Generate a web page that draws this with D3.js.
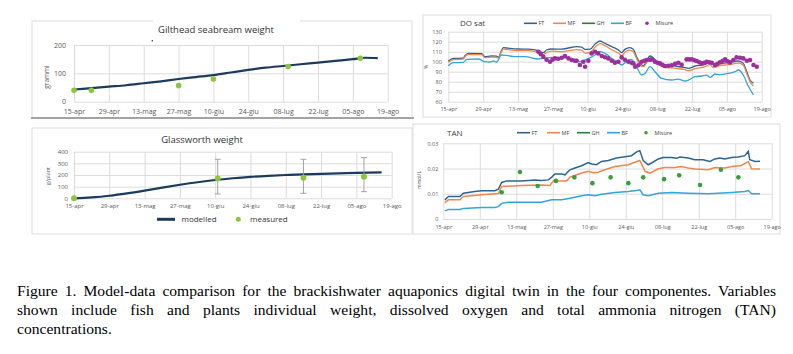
<!DOCTYPE html>
<html>
<head>
<meta charset="utf-8">
<script src="https://cdn.jsdelivr.net/npm/d3@7"></script>
<style>
  body { margin: 0; background: #fff; }
  #fig { position: relative; width: 793px; height: 354px; overflow: hidden; }
  #fig svg { position: absolute; left: 0; top: 0; }
  .caption { position: absolute; left: 17px; width: 759px; font-family: "Liberation Serif", "Times New Roman", serif;
             font-size: 15.6px; line-height: 19px; color: #000; white-space: nowrap; }
  .just { text-align: justify; text-align-last: justify; }
</style>
</head>
<body>
<div id="fig"></div>
<script>
// x axis: days since 15 april
const tickDays = [0, 14, 28, 42, 56, 70, 84, 98, 112, 126];
const tickLabels = ["15-apr", "29-apr", "13-mag", "27-mag", "10-giu", "24-giu", "08-lug", "22-lug", "05-ago", "19-ago"];

// gilthead seabream weight (grammi)
const seabreamModel = [[0, 43], [7, 48], [14, 53], [21, 58], [28, 65], [35, 72], [42, 80], [49, 87], [56, 94], [63, 103],
  [70, 112], [77, 120], [84, 126], [91, 132], [98, 138], [105, 144], [112, 150], [117, 155], [122, 154]];
const seabreamMeasured = [[0, 40], [7, 40], [42, 57], [56, 80], [86, 124], [115, 153]];

// glassworth weight (g/plant)
const glassModel = [[0, 0], [7, 8], [14, 22], [21, 42], [28, 66], [35, 92], [42, 116], [49, 138], [56, 157], [63, 172],
  [70, 184], [77, 193], [84, 200], [91, 206], [98, 210], [105, 214], [112, 218], [122, 222]];
const glassMeasured = [[0, 0, 0, 0], [57, 170, 37, 335], [91, 177, 43, 335], [115, 185, 57, 349]]; // day, mean, low, high

// DO sat (%)
const doFT = [[0, 100.7], [2, 103.3], [6, 103.5], [6.7, 106], [8, 108.3], [13.4, 108], [14.7, 105], [17.4, 105.7], [19.4, 105.5],
  [20.1, 104.3], [21.2, 110], [22.1, 114], [24.1, 113.5], [28.2, 112.7], [32.2, 112.5], [36.2, 111], [38.2, 109], [39.5, 111.7],
  [41.6, 112.7], [45.6, 112.5], [48.3, 113.7], [51.6, 115], [53.6, 114.5], [55, 112.3], [57, 112.5], [59, 117.7], [61, 120.7],
  [63, 118.3], [65.7, 115], [68.4, 111.7], [69.7, 109], [71, 112.3], [73, 114], [74.4, 112.3], [75.7, 105], [77.1, 98.3],
  [78.4, 96], [81.1, 105.7], [84.5, 99], [87.1, 96.3], [91.2, 95.7], [95.2, 94], [96.5, 93.3], [99.2, 95.7], [103.2, 97.3],
  [105.2, 100], [106.6, 97.3], [109.2, 98.3], [112.6, 99], [116.6, 100.7], [118.6, 98.3], [120, 90], [121.3, 81.7], [122.7, 78.5]];
const doMF = [[0, 99.5], [2, 102], [6, 102.5], [6.7, 105], [8, 107], [13.4, 107], [14.7, 104], [17.4, 104.5], [19.4, 104.3],
  [20.1, 103.5], [21.2, 109], [22.1, 112.5], [24.1, 112], [28.2, 111], [32.2, 111], [36.2, 109], [38.2, 107], [39.5, 109],
  [41.6, 110.5], [45.6, 110], [48.3, 111], [51.6, 112], [53.6, 111.5], [55, 108.5], [57, 109], [59, 114.5], [61, 118],
  [63, 116], [65.7, 112], [68.4, 108.5], [69.7, 106], [71, 109.5], [73, 111.5], [74.4, 110], [75.7, 103], [77.1, 97],
  [78.4, 95], [81.1, 103.5], [84.5, 97], [87.1, 94], [91.2, 93.5], [95.2, 92], [96.5, 91], [99.2, 93], [103.2, 95],
  [105.2, 97], [106.6, 94], [109.2, 96], [112.6, 97], [116.6, 98.5], [118.6, 96.5], [120, 88], [121.3, 80], [122.7, 75.7]];
const doBF = [[0, 96], [2, 99], [6, 99.3], [7.4, 102.3], [12.1, 102.7], [14.7, 100], [16.8, 99.7], [18.1, 100.7], [19.4, 99.7],
  [21.4, 106.7], [23.5, 106.3], [26.8, 105], [30.8, 105], [36.2, 102.7], [41.6, 104.3], [45.6, 104], [49.6, 103.3], [52.9, 100],
  [55.6, 102.3], [59, 106.7], [61, 110], [63.7, 107.3], [65.7, 103.3], [68.4, 99], [69.7, 96.7], [72.4, 101.7], [73.7, 102],
  [75.7, 95], [77.7, 86.7], [79.1, 88.3], [81.1, 95], [83.1, 90], [85.8, 83.3], [89.8, 81.7], [92.5, 82.5], [95.2, 80.7],
  [96.5, 81.5], [99.2, 85], [101.9, 85.7], [103.9, 86.5], [105.2, 84.3], [107.2, 87.7], [109.2, 87], [112.6, 88.3],
  [115.3, 90], [116.6, 91.7], [118.6, 86.7], [120.6, 75.7], [122.7, 66.7]];
const doMisure = [[36.2, 110], [37.2, 107.5], [38.2, 105], [39.5, 102], [40.9, 100], [41.9, 102], [42.9, 103.3], [44.2, 103],
  [45.6, 104], [46.9, 105.7], [48.3, 103.3], [49.6, 101.7], [50.9, 101], [51.6, 101], [52.9, 96.7], [54.3, 100], [55, 95],
  [56.3, 101], [57.6, 108.3], [59, 110], [60.3, 108.3], [61.7, 105.7], [63, 104.5], [64.3, 103.3], [65.7, 101], [67, 99],
  [68.4, 100], [69.7, 104.3], [71, 102], [72.4, 100], [73.7, 99], [74.4, 98.3], [75.1, 95], [76.4, 96.5], [77.7, 100],
  [78.8, 101], [79.8, 101.7], [81.1, 102], [81.8, 102.3], [83.1, 100], [84.1, 99], [85.1, 98.3], [86.1, 97], [87.1, 95.7],
  [88.5, 96], [89.8, 96.5], [91.2, 98], [92.5, 99], [93.8, 97], [95.8, 102.3], [96.8, 102.3], [97.9, 102.3], [98.9, 101.5],
  [99.9, 100.7], [100.9, 99.5], [101.9, 98.3], [102.9, 99], [103.9, 100], [104.9, 99.5], [105.9, 99], [107.2, 96.7],
  [108.2, 98], [109.2, 99.3], [110.3, 101], [111.3, 102.3], [112.3, 100.5], [113.3, 99.3], [114.6, 101.7], [115.9, 104.3],
  [117.3, 104], [118.6, 103.3], [120, 101], [121.3, 101.7], [122.7, 96.7], [124, 95]];

// TAN (mmol/L)
const tanFT = [[0.6, 0.0076], [2, 0.0089], [6.4, 0.0089], [7.7, 0.0102], [12.1, 0.0109], [14.7, 0.0112], [19.8, 0.0112],
  [21.1, 0.0118], [22.4, 0.0145], [24.3, 0.0151], [30, 0.0151], [35.2, 0.0155], [37.7, 0.0153], [40.3, 0.0155], [41.6, 0.0166],
  [42.8, 0.0178], [45.4, 0.0178], [46.7, 0.0175], [48.6, 0.0195], [50.5, 0.0202], [53.1, 0.0211], [55.6, 0.0224], [56.9, 0.0218],
  [58.8, 0.0215], [60.7, 0.0228], [63.3, 0.0232], [66.5, 0.0242], [69, 0.0246], [72.2, 0.0251], [74.2, 0.0266], [75.4, 0.0271],
  [76.7, 0.0232], [78.6, 0.0215], [79.9, 0.0222], [82.5, 0.0238], [84.4, 0.0244], [87.6, 0.0244], [89.5, 0.0241], [90.8, 0.0246],
  [94, 0.0242], [96.5, 0.0235], [99.7, 0.0235], [102.3, 0.0228], [104.2, 0.0238], [106.1, 0.0242], [108, 0.0238],
  [110.6, 0.0244], [113.1, 0.0246], [115.7, 0.0251], [117, 0.0268], [117.6, 0.0235], [119.6, 0.0228], [121.5, 0.0229]];
const tanMF = [[0.6, 0.0065], [2, 0.0076], [6.4, 0.0076], [7.7, 0.0089], [14.7, 0.0096], [19.8, 0.01], [21.1, 0.0101],
  [22.4, 0.0129], [30, 0.0133], [37.7, 0.0135], [40.9, 0.0133], [42.2, 0.0151], [45.4, 0.0151], [47.3, 0.0151],
  [48.6, 0.0166], [53.1, 0.0182], [55.6, 0.0189], [57.5, 0.0183], [59.5, 0.0185], [61.4, 0.0193], [65.9, 0.0208],
  [71, 0.0215], [74.2, 0.0228], [75.4, 0.0232], [77.4, 0.0189], [79.3, 0.0182], [82.5, 0.0199], [85, 0.0204],
  [88.9, 0.0204], [91.4, 0.0208], [94, 0.0202], [96.5, 0.0198], [101.6, 0.0195], [104.2, 0.0204], [108, 0.0202],
  [110.6, 0.0208], [114.4, 0.0212], [117, 0.0228], [118.3, 0.0199], [121.5, 0.0198]];
const tanBF = [[0.6, 0.0032], [2, 0.0038], [6.4, 0.0038], [7.7, 0.0042], [14.7, 0.0046], [19.8, 0.0046], [21.1, 0.0049],
  [22.4, 0.0062], [24.9, 0.0066], [37.7, 0.0066], [41.6, 0.0076], [45.4, 0.0076], [48.6, 0.0082], [53.1, 0.0092],
  [55.6, 0.0096], [58.2, 0.0092], [60.7, 0.0098], [65.9, 0.0105], [71, 0.0109], [74.2, 0.0113], [75.4, 0.0116],
  [76.7, 0.0096], [78.6, 0.0092], [82.5, 0.0102], [87.6, 0.0105], [94, 0.0102], [101.6, 0.01], [105.5, 0.0102],
  [110.6, 0.0105], [115.7, 0.0109], [117, 0.0113], [118.3, 0.01], [121.5, 0.01]];
const tanMisure = [[22.4, 0.0106], [29.4, 0.0186], [36.2, 0.0131], [43.2, 0.0151], [50.3, 0.0165], [57.2, 0.0142],
  [64.2, 0.0165], [71, 0.0142], [76.7, 0.0165], [84.7, 0.0158], [90.5, 0.0173], [98.5, 0.0135], [106.5, 0.0195],
  [113.2, 0.0165]];

const seriesNames = ["FT", "MF", "GH", "BF", "Misure"];
const seriesColors = { FT: "#2e6590", MF: "#f4854a", GH: "#2e7d32", BF: "#2fa6dc" };

const navy = "#1b3a5e";
const lime = "#8cc63f";
const gridColor = "#dcdcdc";
const labelColor = "#595959";

const svg = d3.select("#fig").append("svg").attr("width", 793).attr("height", 270);

function drawPanel(o) {
  const g = svg.append("g");
  const x = d3.scaleLinear().domain([0, 126]).range([o.x0, o.x1]);
  const y = d3.scaleLinear().domain(o.yDomain).range([o.yb, o.yt]);

  g.append("rect")
    .attr("x", o.fx).attr("y", o.fy).attr("width", o.fw).attr("height", o.fh)
    .attr("fill", "#fff").attr("stroke", "#dedede").attr("stroke-width", 1);

  g.append("g")
    .attr("transform", `translate(${o.x0},0)`)
    .call(d3.axisLeft(y).tickValues(o.yTicks).tickSize(-(o.x1 - o.x0)).tickPadding(o.yPad).tickFormat(o.yFmt))
    .call((a) => {
      a.select(".domain").remove();
      a.selectAll("line").attr("stroke", gridColor);
      a.selectAll("text").attr("fill", labelColor).attr("font-size", o.font).attr("font-family", "Open Sans, sans-serif");
    });

  g.append("g")
    .attr("transform", `translate(0,${o.yb})`)
    .call(d3.axisBottom(x).tickValues(tickDays).tickSize(-(o.yb - o.yt)).tickPadding(o.xPad)
      .tickFormat((d, i) => tickLabels[i]))
    .call((a) => {
      a.select(".domain").remove();
      a.selectAll("line").attr("stroke", gridColor);
      a.selectAll("text").attr("fill", labelColor).attr("font-size", o.font).attr("font-family", "Open Sans, sans-serif");
    });

  g.append("text")
    .attr("transform", `translate(${o.ylx},${o.yly}) rotate(-90)`)
    .attr("text-anchor", "middle")
    .attr("font-size", o.font - 0.5)
    .attr("fill", labelColor)
    .text(o.yLabel);

  return { g, x, y };
}

// ---- Gilthead seabream ----
const pA = drawPanel({ fx: 32, fy: 21, fw: 380, fh: 97, x0: 74, x1: 387.7, yb: 101.7, yt: 45,
  yDomain: [0, 200], yTicks: [0, 100, 200], yFmt: d3.format("d"), font: 7, xPad: 7.5, yPad: 8,
  yLabel: "grammi", ylx: 49, yly: 77 });
svg.append("rect").attr("x", 153).attr("y", 17).attr("width", 147).attr("height", 26).attr("fill", "#fff");
svg.append("text").attr("x", 216).attr("y", 33).attr("text-anchor", "middle")
  .attr("font-size", 9.5).attr("fill", "#333").text("Gilthead seabream weight");
svg.append("circle").attr("cx", 152.3).attr("cy", 40.7).attr("r", 0.8).attr("fill", navy);
svg.append("line").attr("x1", 31).attr("x2", 414).attr("y1", 118).attr("y2", 118)
  .attr("stroke", "#8a8a8a").attr("stroke-width", 1.5);

pA.g.append("path")
  .datum(seabreamModel)
  .attr("fill", "none").attr("stroke", navy).attr("stroke-width", 2.2)
  .attr("d", d3.line().x((d) => pA.x(d[0])).y((d) => pA.y(d[1])).curve(d3.curveMonotoneX));
pA.g.selectAll(".pt").data(seabreamMeasured).join("circle")
  .attr("cx", (d) => pA.x(d[0])).attr("cy", (d) => pA.y(d[1])).attr("r", 2.8).attr("fill", lime);

// ---- Glassworth ----
const pB = drawPanel({ fx: 32, fy: 128, fw: 380, fh: 106, x0: 74, x1: 391.7, yb: 198.3, yt: 151.7,
  yDomain: [0, 400], yTicks: [0, 100, 200, 300, 400], yFmt: d3.format("d"), font: 6, xPad: 5.6, yPad: 6,
  yLabel: "g/plant", ylx: 50, yly: 176 });
svg.append("text").attr("x", 202).attr("y", 142.5).attr("text-anchor", "middle")
  .attr("font-size", 9.5).attr("fill", "#333").text("Glassworth weight");

pB.g.append("path")
  .datum(glassModel)
  .attr("fill", "none").attr("stroke", navy).attr("stroke-width", 2.2)
  .attr("d", d3.line().x((d) => pB.x(d[0])).y((d) => pB.y(d[1])).curve(d3.curveMonotoneX));
const bars = pB.g.selectAll(".err").data(glassMeasured.filter((d) => d[3] > d[2])).join("g");
bars.append("line").attr("x1", (d) => pB.x(d[0])).attr("x2", (d) => pB.x(d[0]))
  .attr("y1", (d) => pB.y(d[2])).attr("y2", (d) => pB.y(d[3])).attr("stroke", "#9a9a9a").attr("stroke-width", 0.9);
[2, 3].forEach((k) => {
  bars.append("line").attr("x1", (d) => pB.x(d[0]) - 3).attr("x2", (d) => pB.x(d[0]) + 3)
    .attr("y1", (d) => pB.y(d[k])).attr("y2", (d) => pB.y(d[k])).attr("stroke", "#9a9a9a").attr("stroke-width", 0.9);
});
pB.g.selectAll(".pt").data(glassMeasured).join("circle")
  .attr("cx", (d) => pB.x(d[0])).attr("cy", (d) => pB.y(d[1])).attr("r", 3).attr("fill", lime);

const legB = svg.append("g").attr("font-size", 8).attr("fill", "#333");
legB.append("line").attr("x1", 157).attr("x2", 175).attr("y1", 219.3).attr("y2", 219.3)
  .attr("stroke", navy).attr("stroke-width", 3);
legB.append("text").attr("x", 181.5).attr("y", 222).text("modelled");
legB.append("circle").attr("cx", 238.3).attr("cy", 219.3).attr("r", 2.5).attr("fill", lime);
legB.append("text").attr("x", 250).attr("y", 222).text("measured");

// ---- legend for the two right panels ----
function drawLegend(x0, yMid, step, dotX, dotColor) {
  const lg = svg.append("g").attr("font-size", 5.5).attr("fill", "#444");
  seriesNames.slice(0, 4).forEach((name, i) => {
    const lx = x0 + i * step;
    lg.append("line").attr("x1", lx).attr("x2", lx + 13).attr("y1", yMid).attr("y2", yMid)
      .attr("stroke", seriesColors[name]).attr("stroke-width", 1.6);
    lg.append("text").attr("x", lx + 14.5).attr("y", yMid + 2).text(name);
  });
  lg.append("circle").attr("cx", dotX).attr("cy", yMid).attr("r", 1.8).attr("fill", dotColor);
  lg.append("text").attr("x", dotX + 8.5).attr("y", yMid + 2).text(seriesNames[4]);
}

// ---- DO sat ----
const pC = drawPanel({ fx: 423, fy: 15, fw: 348, fh: 102, x0: 448.3, x1: 761.7, yb: 101.7, yt: 31.7,
  yDomain: [60, 130], yTicks: d3.range(60, 131, 10), yFmt: d3.format("d"), font: 5.5, xPad: 5.7, yPad: 6.5,
  yLabel: "%", ylx: 428, yly: 67 });
svg.append("text").attr("x", 460).attr("y", 26).attr("font-size", 8).attr("fill", "#404040").text("DO sat");
drawLegend(524, 23.3, 29, 647, "#9b2f9b");

const lineC = d3.line().x((d) => pC.x(d[0])).y((d) => pC.y(d[1])).curve(d3.curveMonotoneX);
[[doFT, "FT"], [doMF, "MF"], [doBF, "BF"]].forEach(([data, name]) => {
  pC.g.append("path").datum(data).attr("fill", "none")
    .attr("stroke", seriesColors[name]).attr("stroke-width", 1.3).attr("d", lineC);
});
pC.g.selectAll(".mis").data(doMisure).join("circle")
  .attr("cx", (d) => pC.x(d[0])).attr("cy", (d) => pC.y(d[1])).attr("r", 2.3).attr("fill", "#9b2f9b");

// ---- TAN ----
const pD = drawPanel({ fx: 413, fy: 124, fw: 367, fh: 110, x0: 443.3, x1: 771.7, yb: 219, yt: 143.3,
  yDomain: [0, 0.03], yTicks: [0, 0.01, 0.02, 0.03], yFmt: (d) => (d === 0 ? "0" : d3.format(".2f")(d)),
  font: 5.5, xPad: 6.5, yPad: 5, yLabel: "mmol/L", ylx: 421, yly: 180 });
svg.append("text").attr("x", 447).attr("y", 135.5).attr("font-size", 8).attr("fill", "#404040").text("TAN");
drawLegend(517, 132.7, 30, 646, "#3a9f3a");

const lineD = d3.line().x((d) => pD.x(d[0])).y((d) => pD.y(d[1]));
[[tanFT, "FT"], [tanMF, "MF"], [tanBF, "BF"]].forEach(([data, name]) => {
  pD.g.append("path").datum(data).attr("fill", "none")
    .attr("stroke", seriesColors[name]).attr("stroke-width", 1.5).attr("d", lineD);
});
pD.g.selectAll(".mis").data(tanMisure).join("circle")
  .attr("cx", (d) => pD.x(d[0])).attr("cy", (d) => pD.y(d[1])).attr("r", 2.3).attr("fill", "#3a9f3a");

svg.selectAll("text").filter(function () { return !this.getAttribute("font-family"); })
  .attr("font-family", "Open Sans, sans-serif");

// ---- caption ----
const captionLines = [
  "Figure 1. Model-data comparison for the brackishwater aquaponics digital twin in the four componentes. Variables",
  "shown include fish and plants individual weight, dissolved oxygen and total ammonia  nitrogen (TAN)",
  "concentrations."
];
d3.select("#fig").selectAll(".caption").data(captionLines).join("div")
  .attr("class", (d, i) => (i < 2 ? "caption just" : "caption"))
  .style("top", (d, i) => `${281 + i * 19}px`)
  .text((d) => d);
</script>
</body>
</html>
